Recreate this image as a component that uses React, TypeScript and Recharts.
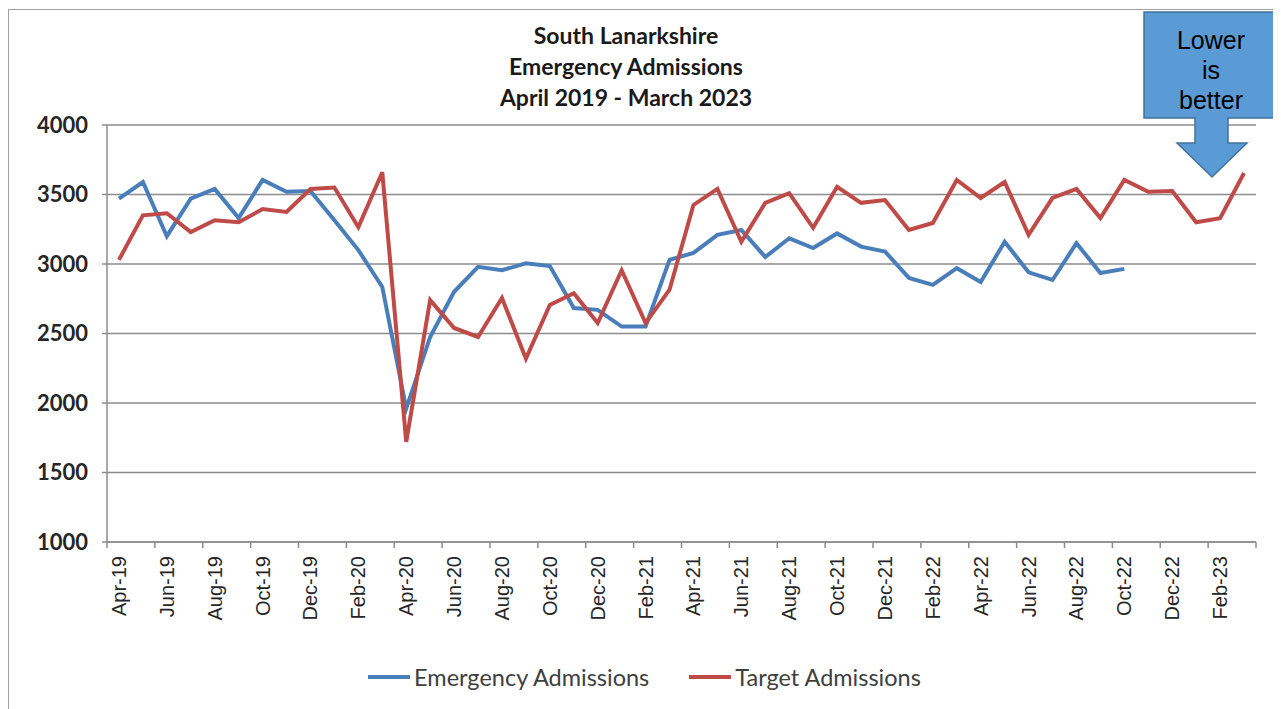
import { LineChart, Line, XAxis, YAxis, CartesianGrid, Legend } from 'recharts';

const months = [
  'Apr-19', 'May-19', 'Jun-19', 'Jul-19', 'Aug-19', 'Sep-19', 'Oct-19', 'Nov-19', 'Dec-19', 'Jan-20', 'Feb-20', 'Mar-20',
  'Apr-20', 'May-20', 'Jun-20', 'Jul-20', 'Aug-20', 'Sep-20', 'Oct-20', 'Nov-20', 'Dec-20', 'Jan-21', 'Feb-21', 'Mar-21',
  'Apr-21', 'May-21', 'Jun-21', 'Jul-21', 'Aug-21', 'Sep-21', 'Oct-21', 'Nov-21', 'Dec-21', 'Jan-22', 'Feb-22', 'Mar-22',
  'Apr-22', 'May-22', 'Jun-22', 'Jul-22', 'Aug-22', 'Sep-22', 'Oct-22', 'Nov-22', 'Dec-22', 'Jan-23', 'Feb-23', 'Mar-23',
];

// Apr-19 .. Oct-22
const emergency = [
  3470, 3590, 3200, 3470, 3540, 3330, 3605, 3520, 3525, 3315, 3100, 2835,
  1960, 2475, 2800, 2980, 2955, 3005, 2985, 2683, 2670, 2550, 2550, 3030,
  3080, 3210, 3245, 3050, 3185, 3115, 3220, 3125, 3090, 2900, 2850, 2970,
  2870, 3160, 2940, 2885, 3150, 2935, 2965,
];

const target = [
  3030, 3350, 3365, 3230, 3315, 3300, 3395, 3375, 3540, 3550, 3265, 3660,
  1720, 2740, 2540, 2475, 2755, 2320, 2705, 2790, 2575, 2955, 2575, 2815,
  3425, 3540, 3160, 3440, 3510, 3260, 3555, 3440, 3460, 3245, 3295, 3605,
  3475, 3590, 3210, 3475, 3540, 3330, 3605, 3520, 3525, 3300, 3330, 3655,
];

const yTicks = [1000, 1500, 2000, 2500, 3000, 3500, 4000];
const titleLines = ['South Lanarkshire', 'Emergency Admissions', 'April 2019 - March 2023'];

const data = months.map((m, i) => ({
  month: m,
  emergency: emergency[i],
  target: target[i],
}));

const W = 1273;
const H = 701;
const margin = { top: 117, right: 25, bottom: 67, left: 0 };
const yAxisWidth = 99;
const band = (W - margin.right - yAxisWidth) / months.length;
const grey = '#8c8c8c';
const blue = '#4a7ebb';
const red = '#be4b48';

function MonthTick(props: any) {
  const { x, y, payload, index } = props;
  const left = x - band / 2;
  return (
    <g>
      <line x1={left} y1={y} x2={left} y2={y + 6} stroke={grey} strokeWidth={1.5} />
      {index === months.length / 2 - 1 ? (
        <line x1={x + band * 1.5} y1={y} x2={x + band * 1.5} y2={y + 6} stroke={grey} strokeWidth={1.5} />
      ) : null}
      <text
        x={x}
        y={y + 14}
        transform={`rotate(-90, ${x}, ${y + 14})`}
        textAnchor="end"
        dy="0.35em"
        fontFamily="'Liberation Sans', Arial, sans-serif"
        fontSize={20}
        fill="#262626"
      >
        {payload.value}
      </text>
    </g>
  );
}

function LegendContent(props: any) {
  const { payload } = props;
  return (
    <div style={{ display: 'flex', justifyContent: 'center', gap: 40, fontFamily: 'Lato, sans-serif', fontSize: 23.5, color: '#404040' }}>
      {payload.map((p: any) => (
        <div key={p.value} style={{ display: 'flex', alignItems: 'center' }}>
          <span style={{ display: 'inline-block', width: 42, height: 4, background: p.color, marginRight: 4 }} />
          <span>{p.value}</span>
        </div>
      ))}
    </div>
  );
}

export default function App() {
  return (
    <div style={{ position: 'relative', width: W, height: H }}>
      <div
        style={{
          position: 'absolute',
          left: 0,
          top: 1,
          width: W,
          height: H - 1,
          borderLeft: '1.5px solid #a0a0a0',
          borderTop: '1.5px solid #a0a0a0',
          boxSizing: 'border-box',
        }}
      />
      <LineChart width={W} height={H} data={data} margin={margin} style={{ position: 'absolute', left: 0, top: 0 }}>
        <CartesianGrid vertical={false} stroke={grey} strokeWidth={1.5} />
        <XAxis
          dataKey="month"
          interval={1}
          height={100}
          padding={{ left: band / 2, right: band / 2 }}
          tickLine={false}
          tickSize={0}
          tickMargin={0}
          axisLine={{ stroke: grey, strokeWidth: 1.5 }}
          tick={<MonthTick />}
        />
        <YAxis
          domain={[1000, 4000]}
          ticks={yTicks}
          width={yAxisWidth}
          tickSize={5}
          tickMargin={14}
          axisLine={{ stroke: grey, strokeWidth: 1.5 }}
          tickLine={{ stroke: grey, strokeWidth: 1.5 }}
          tick={{ fontFamily: 'Lato, sans-serif', fontWeight: 700, fontSize: 22, fill: '#262626' }}
        />
        <Line
          type="linear"
          dataKey="emergency"
          name="Emergency Admissions"
          stroke={blue}
          strokeWidth={4}
          dot={false}
          isAnimationActive={false}
        />
        <Line
          type="linear"
          dataKey="target"
          name="Target Admissions"
          stroke={red}
          strokeWidth={4}
          dot={false}
          isAnimationActive={false}
        />
        <Legend
          layout="horizontal"
          verticalAlign="middle"
          content={<LegendContent />}
          wrapperStyle={{ top: 655, left: 0, width: W }}
        />
        {titleLines.map((t, i) => (
          <text
            key={t}
            x={618}
            y={36 + i * 31}
            textAnchor="middle"
            fontFamily="Lato, sans-serif"
            fontWeight={700}
            fontSize={23}
            fill="#1a1a1a"
          >
            {t}
          </text>
        ))}
        <g>
          <path
            d="M1136,4 H1271 V110 H1220 V135 H1239 L1204,169 L1169,135 H1187 V110 H1136 Z"
            fill="#5b9bd5"
            stroke="#41719c"
            strokeWidth={1.5}
          />
          {['Lower', 'is', 'better'].map((t, i) => (
            <text
              key={t}
              x={1203}
              y={41 + i * 30}
              textAnchor="middle"
              fontFamily="'Liberation Sans', Arial, sans-serif"
              fontSize={25}
              fill="#000"
            >
              {t}
            </text>
          ))}
        </g>
      </LineChart>
    </div>
  );
}
